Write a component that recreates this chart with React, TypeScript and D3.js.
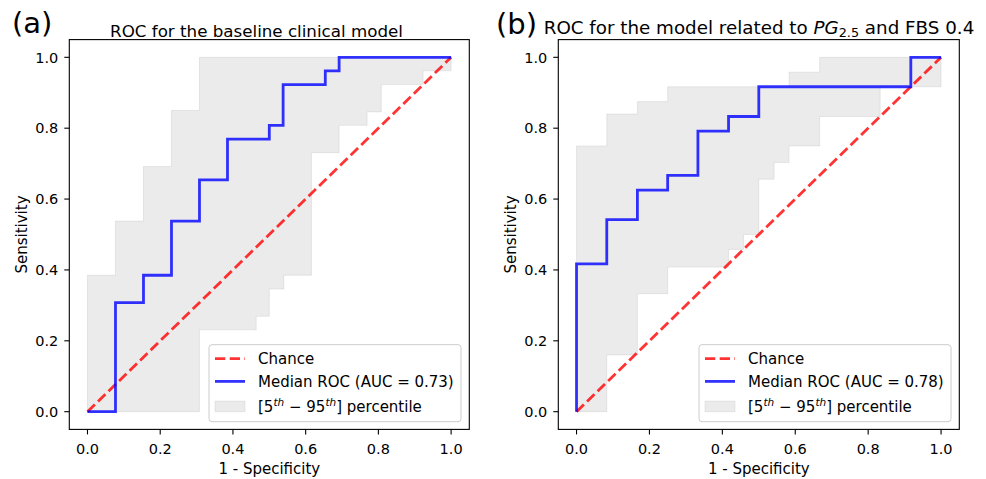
import React from 'react';
import * as d3 from 'd3';

// ---- data ----
const ticks = [0, 0.2, 0.4, 0.6, 0.8, 1.0];
const chance = [[0, 0], [1, 1]];

// (a) baseline clinical model, step-after points
const medianA_fpr = [0, 0.077, 0.154, 0.231, 0.308, 0.385, 0.5, 0.538, 0.654, 0.692, 1.0];
const medianA_tpr = [0, 0.308, 0.385, 0.538, 0.654, 0.769, 0.808, 0.923, 0.962, 1.0, 1.0];
const upperA_fpr = [0, 0.077, 0.154, 0.231, 0.308, 1.0];
const upperA_tpr = [0.385, 0.538, 0.692, 0.85, 1.0, 1.0];
const lowerA_fpr = [0, 0.308, 0.464, 0.5, 0.54, 0.616, 0.692, 0.769, 0.808, 0.923, 1.0];
const lowerA_tpr = [0, 0.231, 0.269, 0.346, 0.385, 0.731, 0.808, 0.846, 0.923, 0.962, 0.962];

// (b) model related to PG2.5 and FBS 0.4
const medianB_fpr = [0, 0, 0.083, 0.167, 0.25, 0.333, 0.417, 0.5, 0.917, 1.0];
const medianB_tpr = [0, 0.417, 0.542, 0.625, 0.667, 0.792, 0.833, 0.917, 1.0, 1.0];
const upperB_fpr = [0, 0.083, 0.167, 0.25, 0.583, 0.667, 1.0];
const upperB_tpr = [0.75, 0.84, 0.875, 0.917, 0.958, 1.0, 1.0];
const lowerB_fpr = [0, 0.083, 0.167, 0.25, 0.417, 0.458, 0.5, 0.542, 0.583, 0.667, 0.833, 1.0];
const lowerB_tpr = [0, 0.16, 0.333, 0.408, 0.458, 0.5, 0.656, 0.703, 0.75, 0.833, 0.917, 0.917];

const FONT = '"DejaVu Sans", sans-serif';

// value of a step-after function at x
function stepAt(xs: number[], ys: number[], x: number) {
  let v = ys[0];
  for (let i = 0; i < xs.length; i++) if (xs[i] <= x) v = ys[i];
  return v;
}

function Panel(props: any) {
  const { left, right, top, bottom, mFpr, mTpr, uFpr, uTpr, lFpr, lTpr, auc } = props;
  const x = d3.scaleLinear().domain([-0.05, 1.05]).range([left, right]);
  const y = d3.scaleLinear().domain([-0.05, 1.05]).range([bottom, top]);

  const grid = Array.from(new Set([...uFpr, ...lFpr])).sort((a: number, b: number) => a - b);
  const band = grid.map((g: number) => ({ x: g, lo: stepAt(lFpr, lTpr, g), hi: stepAt(uFpr, uTpr, g) }));
  const area = d3.area<any>().x(d => x(d.x)).y0(d => y(d.lo)).y1(d => y(d.hi)).curve(d3.curveStepAfter);

  const median = mFpr.map((f: number, i: number) => [f, mTpr[i]]);
  const line = d3.line<any>().x(d => x(d[0])).y(d => y(d[1]));
  const stepLine = d3.line<any>().x(d => x(d[0])).y(d => y(d[1])).curve(d3.curveStepAfter);

  const lw = 252, lh = 77;
  const lx = right - 8.3 - lw, ly = bottom - 7.7 - lh;
  const rows = [ly + 14, ly + 36.7, ly + 61.7];

  return (
    <g fontFamily={FONT}>
      <path d={area(band) || ''} fill="rgba(128,128,128,0.16)" stroke="rgba(128,128,128,0.14)" strokeWidth={1} />
      <path d={line(chance) || ''} fill="none" stroke="rgba(255,0,0,0.8)" strokeWidth={2.8} strokeDasharray="10.3 4.4" />
      <path d={stepLine(median) || ''} fill="none" stroke="rgba(0,0,255,0.8)" strokeWidth={2.8} />
      <rect x={left} y={top} width={right - left} height={bottom - top} fill="none" stroke="#000" strokeWidth={1.1} />
      {ticks.map(t => (
        <g key={'x' + t}>
          <line x1={x(t)} x2={x(t)} y1={bottom} y2={bottom + 5} stroke="#000" strokeWidth={1.1} />
          <text x={x(t)} y={bottom + 24.3} textAnchor="middle" fontSize={14.5} fill="#000">{d3.format('.1f')(t)}</text>
        </g>
      ))}
      {ticks.map(t => (
        <g key={'y' + t}>
          <line x1={left - 5} x2={left} y1={y(t)} y2={y(t)} stroke="#000" strokeWidth={1.1} />
          <text x={left - 11} y={y(t)} dy="0.36em" textAnchor="end" fontSize={14.5} fill="#000">{d3.format('.1f')(t)}</text>
        </g>
      ))}
      <text x={(left + right) / 2} y={474.3} textAnchor="middle" fontSize={15} fill="#000">1 - Specificity</text>
      <text transform={`translate(${left - 42.6},${(top + bottom) / 2}) rotate(-90)`} textAnchor="middle" fontSize={15} fill="#000">Sensitivity</text>

      <rect x={lx} y={ly} width={lw} height={lh} rx={3} fill="rgba(255,255,255,0.8)" stroke="#cccccc" strokeWidth={1} />
      <line x1={lx + 6} x2={lx + 36} y1={rows[0]} y2={rows[0]} stroke="rgba(255,0,0,0.8)" strokeWidth={2.8} strokeDasharray="10.3 4.4" />
      <line x1={lx + 6} x2={lx + 36} y1={rows[1]} y2={rows[1]} stroke="rgba(0,0,255,0.8)" strokeWidth={2.8} />
      <rect x={lx + 6} y={rows[2] - 5.3} width={30} height={10.6} fill="rgba(128,128,128,0.16)" stroke="rgba(128,128,128,0.14)" />
      <text x={lx + 49} y={rows[0]} dy="0.36em" fontSize={15} fill="#000">Chance</text>
      <text x={lx + 49} y={rows[1]} dy="0.36em" fontSize={15} fill="#000">{`Median ROC (AUC = ${auc})`}</text>
      <text x={lx + 49} y={rows[2] + 5.4} fontSize={15} fill="#000">
        [5<tspan fontSize={10.5} fontStyle="italic" dy={-6}>th</tspan>
        <tspan dy={6}>{' \u2212 95'}</tspan>
        <tspan fontSize={10.5} fontStyle="italic" dy={-6}>th</tspan>
        <tspan dy={6}>] percentile</tspan>
      </text>
    </g>
  );
}

export default function App() {
  const top = 39.6, bottom = 429.4;
  return (
    <svg width={986} height={479} style={{ position: 'absolute', left: 0, top: 0, background: '#fff' }}>
      <rect width={986} height={479} fill="#fff" />
      <Panel left={69.3} right={469.3} top={top} bottom={bottom}
        mFpr={medianA_fpr} mTpr={medianA_tpr} uFpr={upperA_fpr} uTpr={upperA_tpr}
        lFpr={lowerA_fpr} lTpr={lowerA_tpr} auc="0.73" />
      <Panel left={558.3} right={959.3} top={top} bottom={bottom}
        mFpr={medianB_fpr} mTpr={medianB_tpr} uFpr={upperB_fpr} uTpr={upperB_tpr}
        lFpr={lowerB_fpr} lTpr={lowerB_tpr} auc="0.78" />
      <g fontFamily={FONT} fill="#000">
        <text x={12} y={33.3} fontSize={29}>(a)</text>
        <text x={496} y={33.8} fontSize={29}>(b)</text>
        <text x={256.5} y={37} textAnchor="middle" fontSize={16.7}>ROC for the baseline clinical model</text>
        <text x={759} y={33.5} textAnchor="middle" fontSize={18.3}>
          {'ROC for the model related to '}
          <tspan fontStyle="italic">PG</tspan>
          <tspan fontSize={12.8} dy={3.8}>2.5</tspan>
          <tspan dy={-3.8}>{' and FBS 0.4'}</tspan>
        </text>
      </g>
    </svg>
  );
}
